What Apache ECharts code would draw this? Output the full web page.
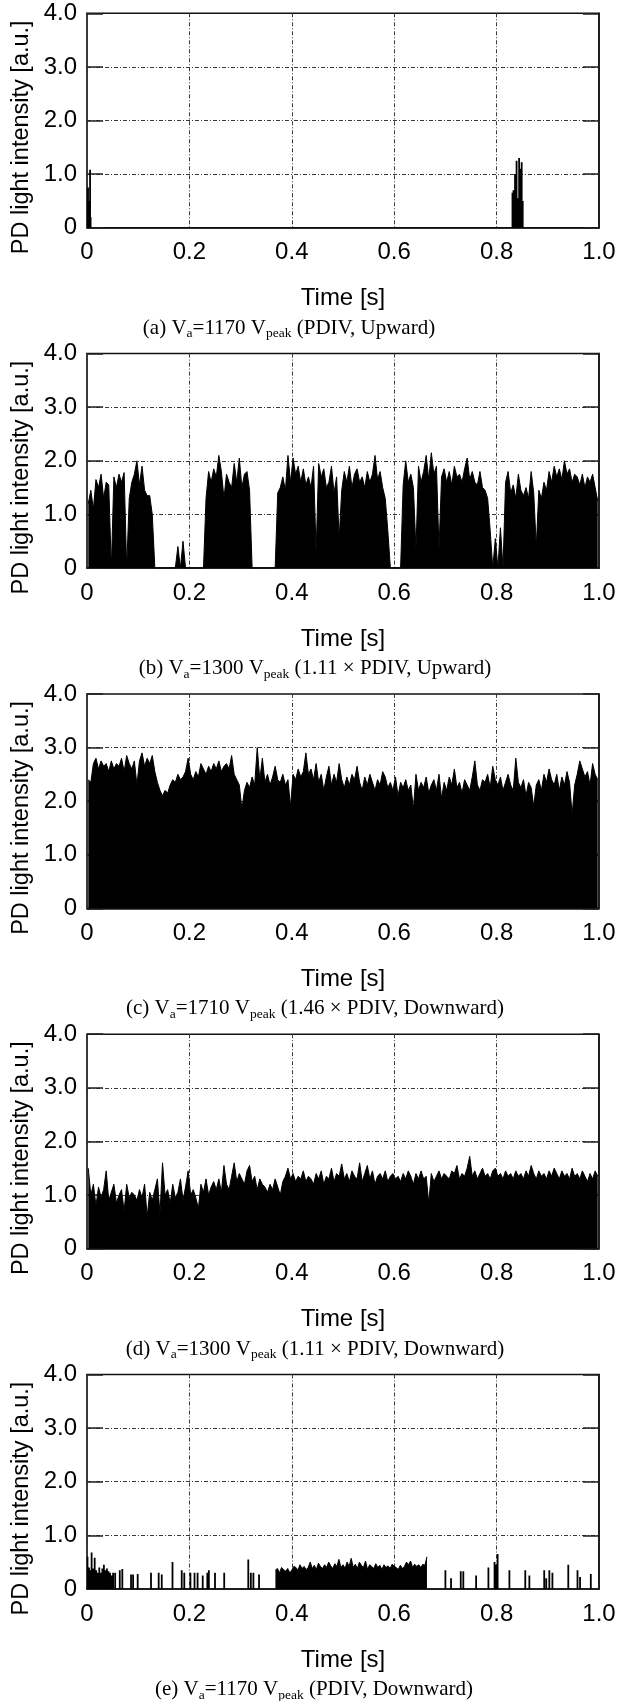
<!DOCTYPE html>
<html>
<head>
<meta charset="utf-8">
<script src="https://cdn.jsdelivr.net/npm/echarts@6/dist/echarts.min.js"></script>
<style>
html,body{margin:0;padding:0;background:#fff;}
#chart{width:626px;height:1701px;}
</style>
</head>
<body>
<div id="chart"></div>
<script>
// ---------- DATA ----------
const xTickLabels = ['0', '0.2', '0.4', '0.6', '0.8', '1.0'];
const yTickLabels = ['0', '1.0', '2.0', '3.0', '4.0'];
const yAxisTitle = 'PD light intensity [a.u.]';
const xAxisTitle = 'Time [s]';

const panelLetters = ['(a)', '(b)', '(c)', '(d)', '(e)'];
const panelVoltages = ['1170', '1300', '1710', '1300', '1170'];
const panelConditions = ['PDIV, Upward', '1.11 × PDIV, Upward', '1.46 × PDIV, Downward', '1.11 × PDIV, Downward', 'PDIV, Downward'];

// dense sampling grid (s) for panels b, c, d
const SAMPLE_STEP = 0.005;

// (a) sparse pulses
const timeA = [0.001,0.002,0.003,0.004,0.005,0.006,0.007,0.831,0.833,0.835,0.836,0.838,0.839,0.841,0.843,0.844,0.846,0.848,0.849,0.851];
const valA  = [0.45,0.75,0.5,0.4,0.35,1.08,0.2,0.65,0.7,0.55,1.0,0.6,1.25,0.55,0.5,1.3,1.1,0.6,1.22,0.5];

// (b) 200 samples
const valB = [
1.2,1.45,1.1,1.65,1.5,1.75,1.3,1.6,1.55,0,
1.7,1.5,1.75,1.6,1.78,0,1.3,1.6,1.75,2.0,
1.55,1.9,1.45,1.35,1.35,1.0,0,0,0,0,
0,0,0,0,0,0.4,0,0.5,0,0,
0,0,0,0,0,0,1.3,1.8,1.6,1.85,
1.7,2.1,1.8,1.3,1.75,1.6,1.5,1.95,1.6,2.05,
1.5,1.75,1.8,1.45,0,0,0,0,0,0,
0,0,0,0,1.4,1.5,1.7,1.45,2.1,1.6,
2.05,1.75,1.9,1.6,1.85,1.55,1.7,1.5,1.9,0.3,
1.95,1.7,1.85,1.5,1.6,1.9,1.4,1.7,0.55,1.45,
1.8,1.6,1.9,1.5,1.75,1.85,1.6,1.7,1.5,1.8,
1.6,1.75,2.1,1.65,1.8,1.5,1.3,0.7,0,0,
0,0,0,1.55,2.0,1.6,1.75,1.5,0.35,1.9,
1.6,1.8,2.1,1.65,2.15,1.75,1.9,0.35,1.7,1.85,
1.6,1.8,1.55,1.9,1.7,1.75,1.6,1.85,2.05,1.65,
1.8,1.6,1.55,1.8,1.5,1.45,1.3,0.7,0,0.55,
0,0.75,0,1.6,1.8,1.4,1.55,1.3,1.75,1.45,
1.35,1.5,1.3,1.8,1.4,0.4,1.45,1.3,1.6,1.45,
1.8,1.6,1.9,1.7,1.85,1.65,2.0,1.75,1.85,1.6,
1.75,1.7,1.55,1.75,1.5,1.7,1.6,1.75,1.5,1.25];

// (c) 200 samples
const valC = [
2.4,2.35,2.7,2.8,2.6,2.75,2.65,2.7,2.55,2.75,
2.6,2.7,2.65,2.8,2.55,2.85,2.7,2.6,2.75,2.3,
2.75,2.9,2.65,2.8,2.7,2.85,2.55,2.35,2.2,2.1,
2.2,2.15,2.3,2.4,2.35,2.5,2.4,2.45,2.55,2.8,
2.5,2.4,2.55,2.45,2.7,2.6,2.5,2.65,2.55,2.7,
2.6,2.75,2.55,2.65,2.7,2.6,2.85,2.5,2.4,2.3,
1.85,2.2,2.35,2.25,2.45,2.3,3.0,2.4,2.8,2.35,
2.5,2.3,2.45,2.65,2.4,2.35,2.5,2.3,2.4,1.9,
2.5,2.4,2.6,2.45,2.55,2.9,2.5,2.6,2.4,2.7,
2.35,2.5,2.2,2.45,2.65,2.3,2.5,2.35,2.7,2.4,
2.25,2.45,2.3,2.5,2.4,2.65,2.35,2.2,2.45,2.3,
2.5,2.35,2.2,2.4,2.3,2.55,2.45,2.25,2.35,2.2,
2.45,2.1,2.35,2.25,2.4,2.2,2.3,1.85,2.5,2.2,
2.35,2.25,2.45,2.15,2.3,2.4,2.2,2.5,2.05,2.35,
2.2,2.45,2.3,2.6,2.25,2.35,2.15,2.4,2.3,2.2,
2.45,2.75,2.3,2.2,2.4,2.35,2.5,2.25,2.65,2.4,
2.3,2.45,2.2,2.35,2.5,2.3,2.2,2.8,2.35,2.25,
2.4,2.1,2.35,2.25,1.9,2.3,2.4,2.2,2.5,2.35,
2.6,2.4,2.3,2.5,2.2,2.45,2.3,2.55,2.35,1.75,
2.3,2.5,2.75,2.6,2.45,2.55,2.3,2.7,2.5,2.4];

// (d) 200 samples
const valD = [
1.5,1.0,1.2,0.8,1.15,0.95,1.1,1.45,0.9,1.05,
1.2,0.85,1.0,1.1,0.7,1.2,0.95,1.05,1.0,0.9,
1.1,0.95,1.2,0.6,1.05,0.9,1.1,1.3,0.65,1.6,
1.0,1.1,0.85,1.2,0.95,1.05,1.3,0.9,1.15,1.45,
1.0,1.1,0.95,0.75,1.2,1.05,1.3,1.0,1.15,1.25,
1.1,1.3,1.05,1.55,1.2,1.1,1.35,1.6,1.25,1.4,
1.3,1.2,1.45,1.55,1.25,1.35,1.1,1.3,1.2,1.15,
1.05,1.2,1.1,1.3,1.15,1.0,1.25,1.35,1.5,1.3,
1.4,1.25,1.35,1.3,1.45,1.25,1.35,1.3,1.2,1.4,
1.3,1.45,1.2,1.35,1.3,1.5,1.25,1.4,1.35,1.58,
1.3,1.4,1.25,1.45,1.35,1.3,1.6,1.25,1.4,1.55,
1.3,1.45,1.2,1.35,1.4,1.3,1.45,1.25,1.35,1.4,
1.3,1.35,1.25,1.4,1.3,1.45,1.35,1.2,1.4,1.3,
1.45,1.3,1.35,0.85,1.4,1.25,1.35,1.45,1.3,1.4,
1.35,1.3,1.45,1.4,1.55,1.3,1.4,1.35,1.5,1.72,
1.35,1.45,1.3,1.4,1.5,1.35,1.4,1.3,1.45,1.5,
1.35,1.4,1.3,1.45,1.35,1.4,1.3,1.45,1.35,1.4,
1.3,1.45,1.35,1.55,1.4,1.3,1.45,1.35,1.4,1.3,
1.45,1.35,1.5,1.4,1.3,1.45,1.35,1.4,1.3,1.5,
1.35,1.4,1.3,1.45,1.35,1.25,1.4,1.3,1.45,1.35];

// (e) sparse pulses + continuous burst
const timeE = [0.001,0.004,0.007,0.009,0.012,0.015,0.018,0.021,0.024,0.027,0.030,0.033,0.036,0.039,0.042,0.045,0.048,0.051,0.055,
0.064,0.069,0.086,0.090,0.099,0.125,0.140,0.146,0.167,0.185,0.190,0.202,0.210,0.216,0.226,0.235,0.238,0.250,0.268,0.315,0.320,0.325,0.336,
0.700,0.711,0.730,0.735,0.760,0.784,0.796,0.799,0.802,0.825,0.856,0.864,0.893,0.897,0.903,0.909,0.940,0.958,0.963,0.984];
const valE  = [0.6,0.4,0.35,0.68,0.38,0.58,0.35,0.3,0.4,0.3,0.38,0.45,0.35,0.38,0.33,0.3,0.25,0.3,0.3,
0.35,0.37,0.27,0.27,0.28,0.3,0.3,0.27,0.5,0.35,0.3,0.3,0.3,0.3,0.25,0.3,0.35,0.3,0.3,0.55,0.3,0.3,0.27,
0.35,0.2,0.33,0.33,0.25,0.4,0.5,0.45,0.65,0.35,0.35,0.25,0.35,0.2,0.35,0.3,0.45,0.35,0.22,0.28];
const burstStartE = 0.368;
const burstStepE = 0.004;
const burstE = [
0.35,0.38,0.3,0.4,0.36,0.33,0.38,0.3,0.35,0.42,
0.4,0.35,0.45,0.38,0.42,0.36,0.4,0.5,0.38,0.44,
0.36,0.48,0.42,0.38,0.45,0.4,0.5,0.43,0.38,0.47,
0.42,0.55,0.4,0.45,0.38,0.5,0.42,0.57,0.4,0.46,
0.38,0.5,0.44,0.4,0.52,0.36,0.45,0.42,0.38,0.47,
0.4,0.44,0.36,0.45,0.4,0.43,0.38,0.46,0.42,0.4,
0.36,0.44,0.38,0.42,0.5,0.45,0.52,0.4,0.46,0.42,
0.45,0.4,0.46,0.44,0.6];

// ---------- BUILD ----------
function densePairs(vals, step) {
  return vals.map((v, i) => [+(step * i + step / 2).toFixed(5), v]);
}
function zipPairs(ts, vs) { return ts.map((t, i) => [t, vs[i]]); }

const PANEL_H = 340.3;
const TOP0 = 13.3;
const PLOT_H = 214.4;
const LEFT = 87;
const PLOT_W = 512;
const CAPTION_X = [289, 315, 315, 315, 314];
const FONT = '"Liberation Sans", Arial, Helvetica, sans-serif';
const SERIF = '"Liberation Serif", "Times New Roman", Times, serif';

// [kind, data] per panel: sparse pulses as thin bars, dense records as filled traces
const panelSeries = [
  [{ kind: 'bar', data: zipPairs(timeA, valA), width: 1.8 }],
  [{ kind: 'trace', data: densePairs(valB, SAMPLE_STEP) }],
  [{ kind: 'trace', data: densePairs(valC, SAMPLE_STEP) }],
  [{ kind: 'trace', data: densePairs(valD, SAMPLE_STEP) }],
  [{ kind: 'bar', data: zipPairs(timeE, valE), width: 1.8 },
   { kind: 'trace', data: burstE.map((v, i) => [+(burstStartE + burstStepE * i).toFixed(5), v]) }]
];

const grids = [], xAxes = [], yAxes = [], series = [], graphics = [];
const gridLine = { color: '#3a3a3a', width: 1, type: [4, 2, 1, 2] };

for (let k = 0; k < 5; k++) {
  const top = TOP0 + PANEL_H * k;
  grids.push({ left: LEFT, top: top, width: PLOT_W, height: PLOT_H, show: true, borderColor: '#111', borderWidth: 1.5, backgroundColor: 'transparent' });
  xAxes.push({
    gridIndex: k, type: 'value', min: 0, max: 1, interval: 0.2,
    axisLine: { show: true, lineStyle: { color: '#111', width: 1.5 } },
    axisTick: { show: false },
    axisLabel: { color: '#000', fontFamily: FONT, fontSize: 24, margin: 13,
      formatter: v => xTickLabels[Math.round(v / 0.2)] },
    splitLine: { show: true, showMinLine: false, showMaxLine: false, lineStyle: gridLine },
    name: xAxisTitle, nameLocation: 'middle', nameGap: 59,
    nameTextStyle: { color: '#000', fontFamily: FONT, fontSize: 24 }
  });
  yAxes.push({
    gridIndex: k, type: 'value', min: 0, max: 4, interval: 1, position: 'left',
    axisLine: { show: true, lineStyle: { color: '#333', width: 1.5 } },
    axisTick: { show: true, inside: true, length: 16, lineStyle: { color: '#222', width: 1.5 } },
    axisLabel: { color: '#000', fontFamily: FONT, fontSize: 24, margin: 10,
      formatter: v => yTickLabels[Math.round(v)] },
    splitLine: { show: true, showMinLine: false, showMaxLine: false, lineStyle: gridLine }
  });
  yAxes.push({
    gridIndex: k, type: 'value', min: 0, max: 4, interval: 1, position: 'right',
    axisLine: { show: true, lineStyle: { color: '#111', width: 1.5 } },
    axisTick: { show: true, inside: true, length: 16, lineStyle: { color: '#222', width: 1.5 } },
    axisLabel: { show: false },
    splitLine: { show: false }
  });
  panelSeries[k].forEach(s => {
    if (s.kind === 'bar') {
      series.push({
        type: 'bar', xAxisIndex: k, yAxisIndex: 2 * k, data: s.data,
        barWidth: s.width, barGap: '-100%', large: true, largeThreshold: 10,
        itemStyle: { color: '#000' }, silent: true, animation: false, z: 3
      });
    } else {
      series.push({
        type: 'line', xAxisIndex: k, yAxisIndex: 2 * k, data: s.data,
        showSymbol: false, symbol: 'none', smooth: false,
        lineStyle: { color: '#000', width: 1 },
        areaStyle: { color: '#000', opacity: 1, origin: 'start' },
        silent: true, animation: false, z: 3
      });
    }
  });
  // y-axis title (rotated)
  graphics.push({
    type: 'text', x: 22, y: top + 124, rotation: Math.PI / 2,
    style: { text: yAxisTitle, font: '23.5px ' + FONT, fill: '#000', align: 'center', verticalAlign: 'middle' }
  });
  // panel caption
  graphics.push({
    type: 'text', x: CAPTION_X[k], y: top + 315,
    style: {
      text: panelLetters[k] + ' V{s|a}=' + panelVoltages[k] + ' V{s|peak} (' + panelConditions[k] + ')',
      font: '21px ' + SERIF, fill: '#000', align: 'center', verticalAlign: 'middle', lineHeight: 25,
      rich: { s: { fontSize: 13.5, fontFamily: SERIF, verticalAlign: 'bottom', lineHeight: 25, fill: '#000' } }
    }
  });
}

const chart = echarts.init(document.getElementById('chart'), null, { renderer: 'canvas' });
chart.setOption({
  animation: false,
  backgroundColor: '#fff',
  grid: grids, xAxis: xAxes, yAxis: yAxes, series: series, graphic: graphics
});
</script>
</body>
</html>
